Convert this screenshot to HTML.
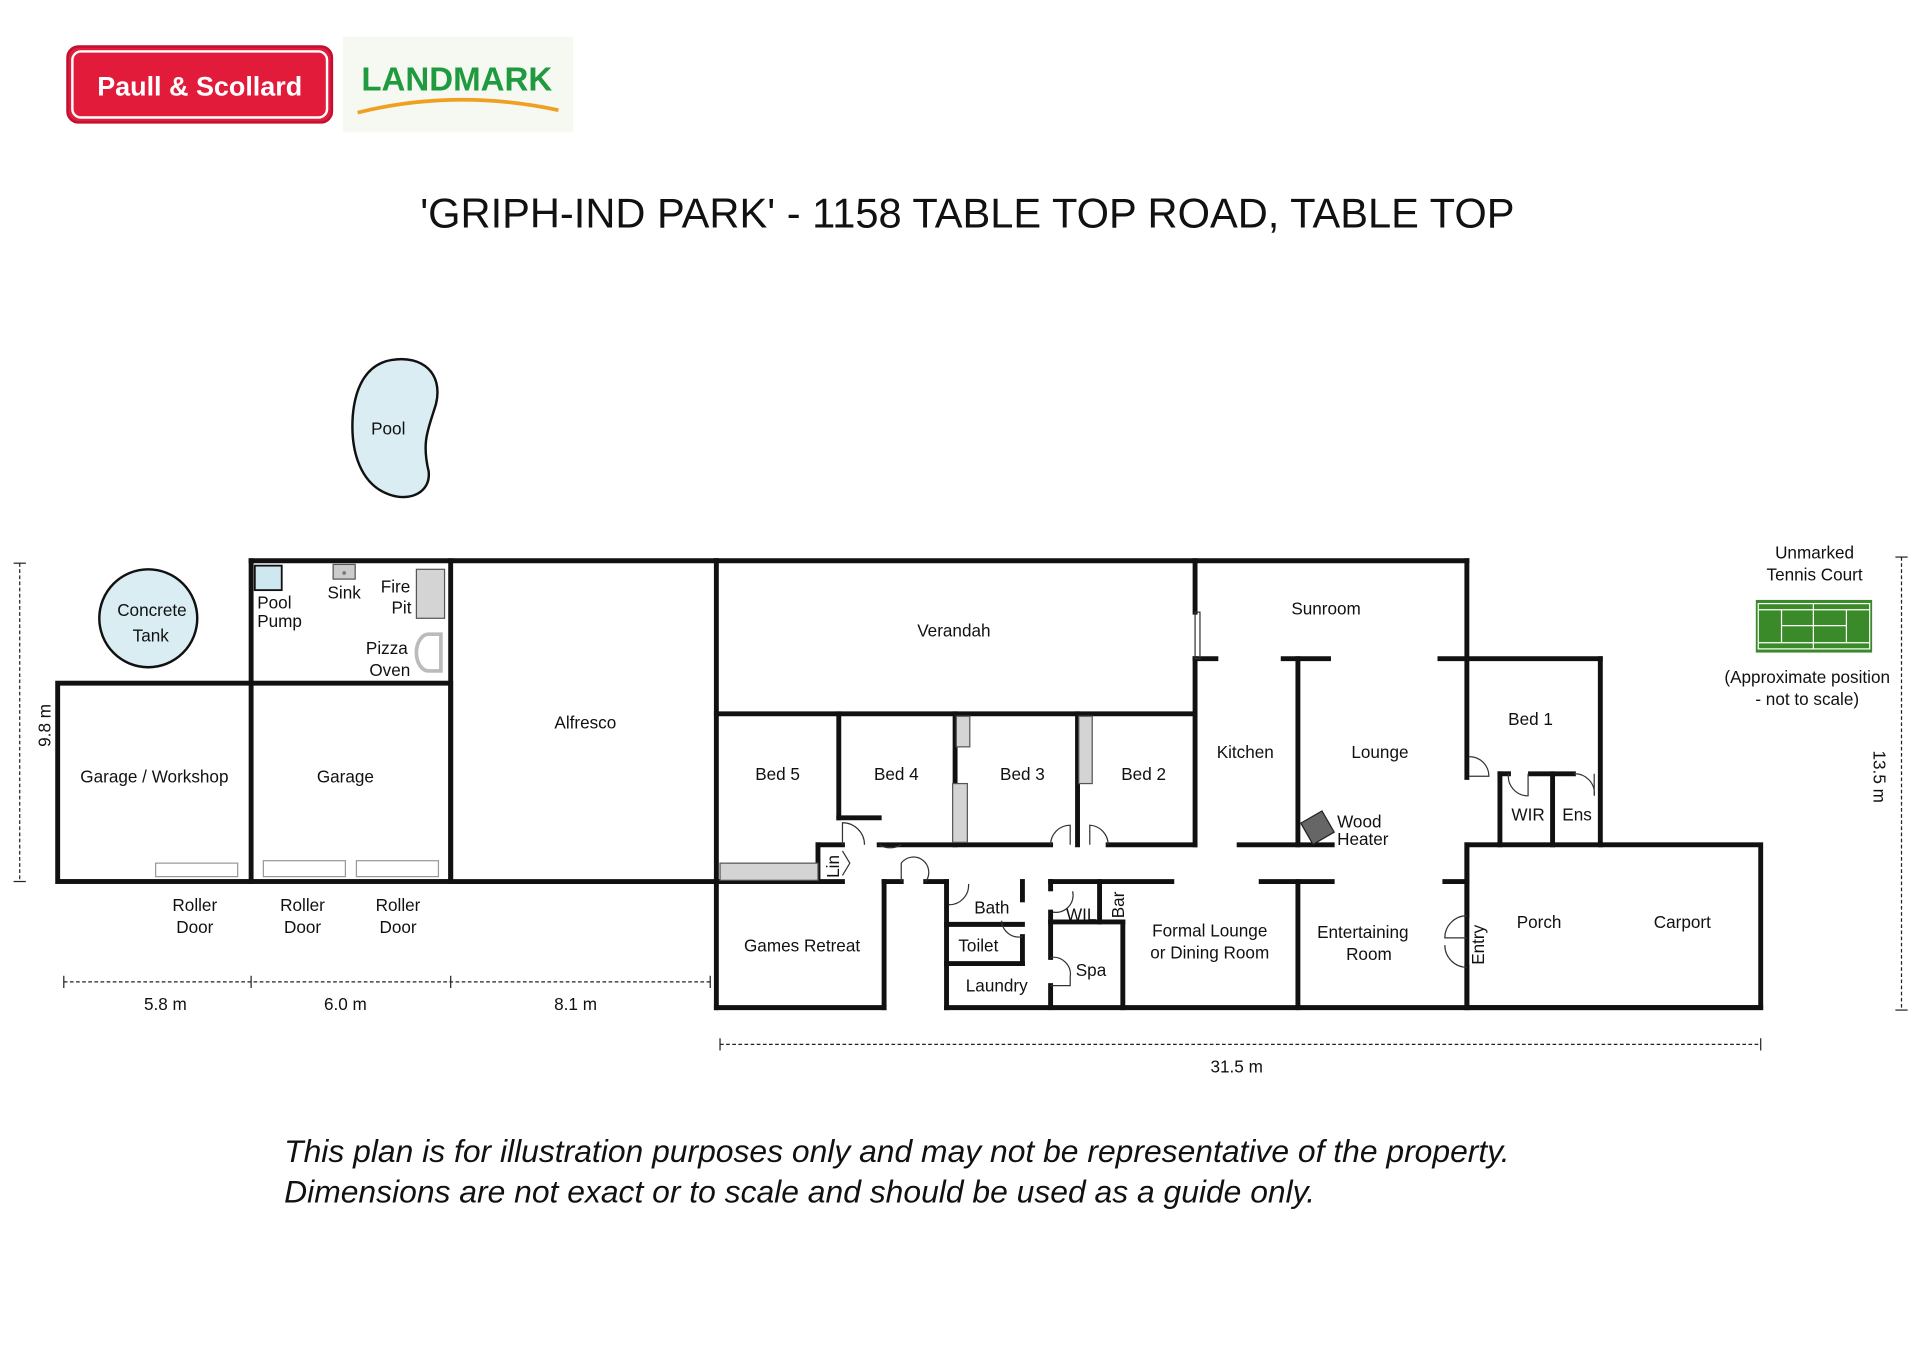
<!DOCTYPE html>
<html><head><meta charset="utf-8"><style>
html,body{margin:0;padding:0;background:#fff;}
svg{display:block;}
text{font-family:"Liberation Sans",Arial,sans-serif;fill:#111;}
</style></head><body>
<svg width="1920" height="1359" viewBox="0 0 1568 1110" xmlns="http://www.w3.org/2000/svg">
<rect width="1568" height="1110" fill="#fff"/>
<!-- logos -->
<rect x="55" y="38" width="216" height="62" rx="9" fill="#e31b3b" stroke="#c01030" stroke-width="2"/>
<rect x="59" y="42" width="208" height="54" rx="7" fill="none" stroke="#fff" stroke-width="2"/>
<text x="163" y="78" text-anchor="middle" font-size="22" font-weight="bold" style="fill:#fff">Paull &amp; Scollard</text>
<rect x="280" y="30" width="188" height="78" fill="#f6f8f2"/>
<text x="373" y="74" text-anchor="middle" font-size="27" font-weight="bold" style="fill:#1f9a3e">LANDMARK</text>
<path d="M292 92 Q372 72 456 90" stroke="#f0a020" stroke-width="3" fill="none"/>
<text x="790" y="186" text-anchor="middle" font-size="34">'GRIPH-IND PARK' - 1158 TABLE TOP ROAD, TABLE TOP</text>

<!-- pool -->
<path d="M320 294 C345 290 362 305 356 330 C350 350 344 360 350 385 C352 402 335 410 318 404 C295 396 286 370 288 340 C290 315 300 297 320 294 Z" fill="#d9edf2" stroke="#111" stroke-width="2"/>
<text x="317" y="355" text-anchor="middle" font-size="14">Pool</text>
<circle cx="121" cy="505" r="40" fill="#d9edf2" stroke="#111" stroke-width="2"/>
<text x="124" y="503" text-anchor="middle" font-size="14">Concrete</text>
<text x="123" y="524" text-anchor="middle" font-size="14">Tank</text>

<g stroke="#111" stroke-width="4" fill="none" stroke-linecap="square">
<rect x="47" y="558" width="321" height="162"/>
<line x1="205" y1="458" x2="205" y2="720"/>
<line x1="205" y1="458" x2="585" y2="458"/>
<line x1="368" y1="458" x2="368" y2="720"/>
<line x1="368" y1="720" x2="585" y2="720"/>
<line x1="585" y1="458" x2="1198" y2="458"/>
<line x1="585" y1="458" x2="585" y2="823"/>
<line x1="585" y1="583" x2="976" y2="583"/>
<line x1="976" y1="458" x2="976" y2="500"/>
<line x1="976" y1="538" x2="976" y2="690"/>
<line x1="1198" y1="458" x2="1198" y2="538"/>
<line x1="976" y1="538" x2="993" y2="538"/>
<line x1="1048" y1="538" x2="1085" y2="538"/>
<line x1="1176" y1="538" x2="1307" y2="538"/>
<line x1="1060" y1="538" x2="1060" y2="690"/>
<line x1="1307" y1="538" x2="1307" y2="690"/>
<line x1="1198" y1="538" x2="1198" y2="635"/>
<line x1="1225" y1="632" x2="1232" y2="632"/>
<line x1="1250" y1="632" x2="1285" y2="632"/>
<line x1="1225" y1="632" x2="1225" y2="690"/>
<line x1="1268" y1="632" x2="1268" y2="690"/>
<rect x="1198" y="690" width="240" height="133"/>
<line x1="685" y1="583" x2="685" y2="668"/>
<line x1="685" y1="668" x2="718" y2="668"/>
<line x1="780" y1="583" x2="780" y2="690"/>
<line x1="880" y1="583" x2="880" y2="690"/>
<line x1="718" y1="690" x2="858" y2="690"/>
<line x1="905" y1="690" x2="976" y2="690"/>
<line x1="1012" y1="690" x2="1088" y2="690"/>
<line x1="585" y1="720" x2="688" y2="720"/>
<line x1="668" y1="690" x2="668" y2="720"/>
<line x1="668" y1="690" x2="688" y2="690"/>
<line x1="722" y1="720" x2="722" y2="823"/>
<line x1="722" y1="720" x2="736" y2="720"/>
<line x1="756" y1="720" x2="773" y2="720"/>
<line x1="585" y1="823" x2="722" y2="823"/>
<line x1="773" y1="823" x2="1438" y2="823"/>
<line x1="773" y1="720" x2="773" y2="823"/>
<line x1="773" y1="755" x2="835" y2="755"/>
<line x1="773" y1="787" x2="835" y2="787"/>
<line x1="835" y1="720" x2="835" y2="735"/>
<line x1="835" y1="765" x2="835" y2="787"/>
<line x1="858" y1="720" x2="858" y2="726"/>
<line x1="858" y1="745" x2="858" y2="782"/>
<line x1="858" y1="805" x2="858" y2="823"/>
<line x1="858" y1="720" x2="957" y2="720"/>
<line x1="898" y1="720" x2="898" y2="753"/>
<line x1="858" y1="753" x2="917" y2="753"/>
<line x1="917" y1="753" x2="917" y2="823"/>
<line x1="1030" y1="720" x2="1088" y2="720"/>
<line x1="1060" y1="720" x2="1060" y2="823"/>
<line x1="1180" y1="720" x2="1198" y2="720"/>
<line x1="1198" y1="690" x2="1198" y2="748"/>
<line x1="1198" y1="790" x2="1198" y2="823"/>
</g>
<g fill="#d4d4d4" stroke="#555" stroke-width="1">
<rect x="781" y="585" width="11" height="25"/>
<rect x="778" y="640" width="12" height="48"/>
<rect x="881" y="585" width="11" height="55"/>
<rect x="588" y="705" width="80" height="14"/>
<rect x="340" y="465" width="23" height="40"/>
</g>
<g stroke="#333" stroke-width="1" fill="none">
<path d="M688 690 V672 A18 18 0 0 1 706 690"/>
<path d="M718 690 A18 18 0 0 0 736 690"/>
<path d="M858 690 A16 16 0 0 1 874 674 V690"/>
<path d="M890 690 V674 A16 16 0 0 1 905 690"/>
<path d="M736 720 V705 A12 12 0 0 1 756 720"/>
<path d="M775 739 A16 16 0 0 0 791 722"/>
<path d="M835 765 A14 14 0 0 1 818 752"/>
<path d="M860 745 A14 14 0 0 0 876 728"/>
<path d="M858 782 A14 14 0 0 1 874 798 V805 H858"/>
<path d="M1198 748 A18 18 0 0 0 1180 766 H1198 M1198 790 A18 18 0 0 1 1180 772"/>
<path d="M1200 618 A16 16 0 0 1 1216 634 H1200"/>
<path d="M1232 632 A16 16 0 0 0 1248 650 V632"/>
<path d="M1285 632 A16 16 0 0 1 1302 650 V632"/>
<path d="M688 695 L694 705 L688 715"/>
<rect x="976" y="500" width="4" height="38"/>
</g>
<path d="M360 518 H350 A10 15 0 0 0 350 548 H360 Z" fill="none" stroke="#bbb" stroke-width="3"/>
<g fill="#fff" stroke="#999" stroke-width="1">
<rect x="127" y="705" width="67" height="11"/>
<rect x="215" y="703" width="67" height="13"/>
<rect x="291" y="703" width="67" height="13"/>
</g>
<rect x="208" y="462" width="22" height="20" fill="#cfe8ef" stroke="#111" stroke-width="1.5"/>
<rect x="272" y="461" width="18" height="12" fill="#ccc" stroke="#555" stroke-width="1"/>
<circle cx="281" cy="468" r="1.5" fill="#777"/>
<g transform="rotate(-30 1076 676)"><rect x="1066" y="666" width="20" height="20" fill="#666" stroke="#222"/></g>

<g font-size="14" text-anchor="middle">
<text x="126" y="639">Garage / Workshop</text>
<text x="282" y="639">Garage</text>
<text x="478" y="595">Alfresco</text>
<text x="779" y="520">Verandah</text>
<text x="1083" y="502">Sunroom</text>
<text x="635" y="637">Bed 5</text>
<text x="732" y="637">Bed 4</text>
<text x="835" y="637">Bed 3</text>
<text x="934" y="637">Bed 2</text>
<text x="1017" y="619">Kitchen</text>
<text x="1127" y="619">Lounge</text>
<text x="1250" y="592">Bed 1</text>
<text x="1248" y="670">WIR</text>
<text x="1288" y="670">Ens</text>
<text x="655" y="777">Games Retreat</text>
<text x="810" y="746">Bath</text>
<text x="799" y="777">Toilet</text>
<text x="814" y="810">Laundry</text>
<text x="883" y="752">WIL</text>
<text x="891" y="797">Spa</text>
<text x="988" y="765">Formal Lounge</text>
<text x="988" y="783">or Dining Room</text>
<text x="1113" y="766">Entertaining</text>
<text x="1118" y="784">Room</text>
<text x="1257" y="758">Porch</text>
<text x="1374" y="758">Carport</text>
<text x="159" y="744">Roller</text><text x="159" y="762">Door</text>
<text x="247" y="744">Roller</text><text x="247" y="762">Door</text>
<text x="325" y="744">Roller</text><text x="325" y="762">Door</text>
<text x="281" y="489">Sink</text>
<text x="1482" y="456">Unmarked</text>
<text x="1482" y="474">Tennis Court</text>
<text x="1476" y="558">(Approximate position</text>
<text x="1476" y="576">- not to scale)</text>
<text x="135" y="825">5.8 m</text>
<text x="282" y="825">6.0 m</text>
<text x="470" y="825">8.1 m</text>
<text x="1010" y="876">31.5 m</text>
</g>
<g font-size="14" text-anchor="end">
<text x="335" y="484">Fire</text><text x="336" y="501">Pit</text>
<text x="333" y="534">Pizza</text><text x="335" y="552">Oven</text>
</g>
<g font-size="14">
<text x="210" y="497">Pool</text><text x="210" y="512">Pump</text>
<text x="1092" y="676">Wood</text><text x="1092" y="690">Heater</text>
<text transform="translate(685 717) rotate(-90)">Lin</text>
<text transform="translate(918 750) rotate(-90)">Bar</text>
<text transform="translate(1212 788) rotate(-90)">Entry</text>
<text transform="translate(41 610) rotate(-90)">9.8 m</text>
<text transform="translate(1530 613) rotate(90)">13.5 m</text>
</g>
<rect x="1434" y="490" width="95" height="43" fill="#3a8a2a"/>
<g stroke="#fff" stroke-width="1" fill="none">
<rect x="1436" y="493" width="91" height="37"/>
<line x1="1436" y1="498" x2="1527" y2="498"/><line x1="1436" y1="525" x2="1527" y2="525"/>
<line x1="1455" y1="498" x2="1455" y2="525"/><line x1="1508" y1="498" x2="1508" y2="525"/>
<line x1="1455" y1="511" x2="1508" y2="511"/><line x1="1481" y1="493" x2="1481" y2="530"/>
</g>
<g stroke="#222" stroke-width="1" fill="none">
<line x1="16" y1="460" x2="16" y2="720" stroke-dasharray="3 2"/>
<line x1="11" y1="460" x2="21" y2="460"/><line x1="11" y1="720" x2="21" y2="720"/>
<line x1="1553" y1="455" x2="1553" y2="825" stroke-dasharray="3 2"/>
<line x1="1548" y1="455" x2="1558" y2="455"/><line x1="1548" y1="825" x2="1558" y2="825"/>
<line x1="52" y1="802" x2="580" y2="802" stroke-dasharray="3 2"/>
<line x1="52" y1="797" x2="52" y2="807"/><line x1="205" y1="797" x2="205" y2="807"/>
<line x1="368" y1="797" x2="368" y2="807"/><line x1="580" y1="797" x2="580" y2="807"/>
<line x1="588" y1="853" x2="1438" y2="853" stroke-dasharray="3 2"/>
<line x1="588" y1="848" x2="588" y2="858"/><line x1="1438" y1="848" x2="1438" y2="858"/>
</g>
<g font-size="26" font-style="italic">
<text x="232" y="949">This plan is for illustration purposes only and may not be representative of the property.</text>
<text x="232" y="982">Dimensions are not exact or to scale and should be used as a guide only.</text>
</g>
</svg>
</body></html>
